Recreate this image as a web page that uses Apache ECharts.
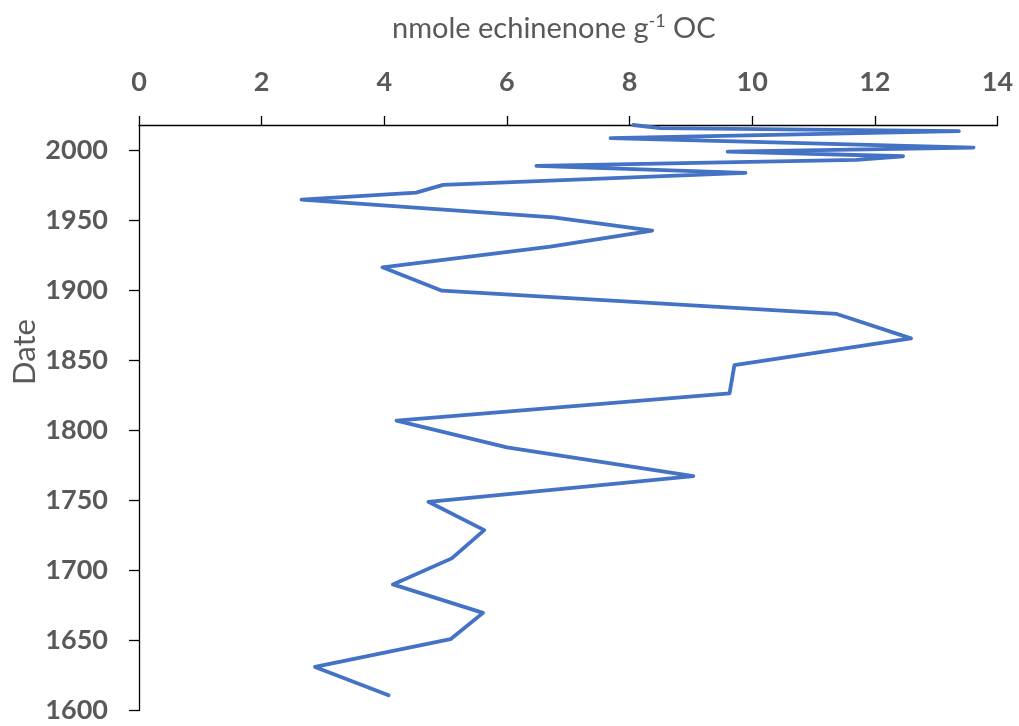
<!DOCTYPE html>
<html>
<head>
<meta charset="utf-8">
<script src="https://cdn.jsdelivr.net/npm/echarts@6/dist/echarts.min.js"></script>
<style>
html,body{margin:0;padding:0;background:#fff;}
#chart{width:1019px;height:726px;}
</style>
</head>
<body>
<div id="chart"></div>
<script>
// Data (date, nmole echinenone g-1 OC)
const dates = [2018, 2015.7, 2013.6, 2008.6, 2001.9, 1999.0, 1995.7, 1993.1, 1988.8, 1983.8,
  1975.2, 1969.7, 1964.7, 1952.1, 1942.6, 1931.1, 1916.4, 1899.7, 1883.1, 1865.7,
  1846.6, 1826.4, 1806.9, 1787.9, 1767.4, 1749.0, 1728.8, 1708.6, 1690.0, 1669.7,
  1650.9, 1631.1, 1610.9];
const echinenone = [8.06, 8.50, 13.37, 7.69, 13.61, 9.60, 12.46, 11.70, 6.48, 9.89,
  4.96, 4.52, 2.65, 6.76, 8.37, 6.71, 3.97, 4.94, 11.38, 12.59,
  9.71, 9.63, 4.20, 6.00, 9.04, 4.72, 5.63, 5.10, 4.14, 5.61,
  5.08, 2.87, 4.07];
const xTicks = [0, 2, 4, 6, 8, 10, 12, 14];
const yTicks = [1600, 1650, 1700, 1750, 1800, 1850, 1900, 1950, 2000];
const titleMain = 'nmole echinenone g';
const titleSup = '-1';
const titleEnd = ' OC';
const yName = 'Date';

const pairs = echinenone.map((v, i) => [v, dates[i]]);
const gray = '#595959';
const font = 'Lato, "Open Sans", sans-serif';

const chart = echarts.init(document.getElementById('chart'), null, {renderer: 'canvas'});
chart.setOption({
  animation: false,
  backgroundColor: '#fff',
  grid: {left: 139, right: 21.5, top: 125, bottom: 15.5, containLabel: false},
  title: {
    text: '{a|' + titleMain + '}{s|' + titleSup + '}{a|' + titleEnd + '}',
    left: 387, top: 2,
    textStyle: {
      fontWeight: 'normal',
      rich: {
        a: {fontFamily: font, fontWeight: 'normal', fontSize: 29, color: gray, lineHeight: 36, verticalAlign: 'bottom'},
        s: {fontFamily: font, fontWeight: 'normal', fontSize: 18, color: gray, lineHeight: 36, verticalAlign: 'bottom', padding: [0, 0, 13, 0]}
      }
    }
  },
  xAxis: {
    type: 'value', position: 'top', min: 0, max: 14, interval: 2,
    axisLine: {show: true, onZero: false, lineStyle: {color: '#000', width: 1.3}},
    axisTick: {show: true, inside: false, length: 9, lineStyle: {color: '#000', width: 1.3}, customValues: xTicks},
    axisLabel: {margin: 29, fontFamily: font, fontWeight: 'bold', fontSize: 27, color: gray, customValues: xTicks,
      formatter: v => String(v)},
    splitLine: {show: false}
  },
  yAxis: {
    type: 'value', min: 1600, max: 2018, interval: 50,
    axisLine: {show: true, onZero: false, lineStyle: {color: '#000', width: 1.3}},
    axisTick: {show: true, inside: false, length: 10, lineStyle: {color: '#000', width: 1.3}, customValues: yTicks},
    axisLabel: {margin: 31, fontFamily: font, fontWeight: 'bold', fontSize: 27, color: gray, customValues: yTicks,
      formatter: v => String(v)},
    splitLine: {show: false}
  },
  graphic: [{
    type: 'text', x: 24.5, y: 352, rotation: Math.PI / 2,
    style: {text: yName, fontFamily: font, fontSize: 31, fill: gray, align: 'center', verticalAlign: 'middle'}
  }],
  series: [{
    type: 'line', data: pairs, showSymbol: false, symbol: 'none', clip: false,
    lineStyle: {color: '#4472C4', width: 3.8, cap: 'round', join: 'round'}
  }]
});
</script>
</body>
</html>
